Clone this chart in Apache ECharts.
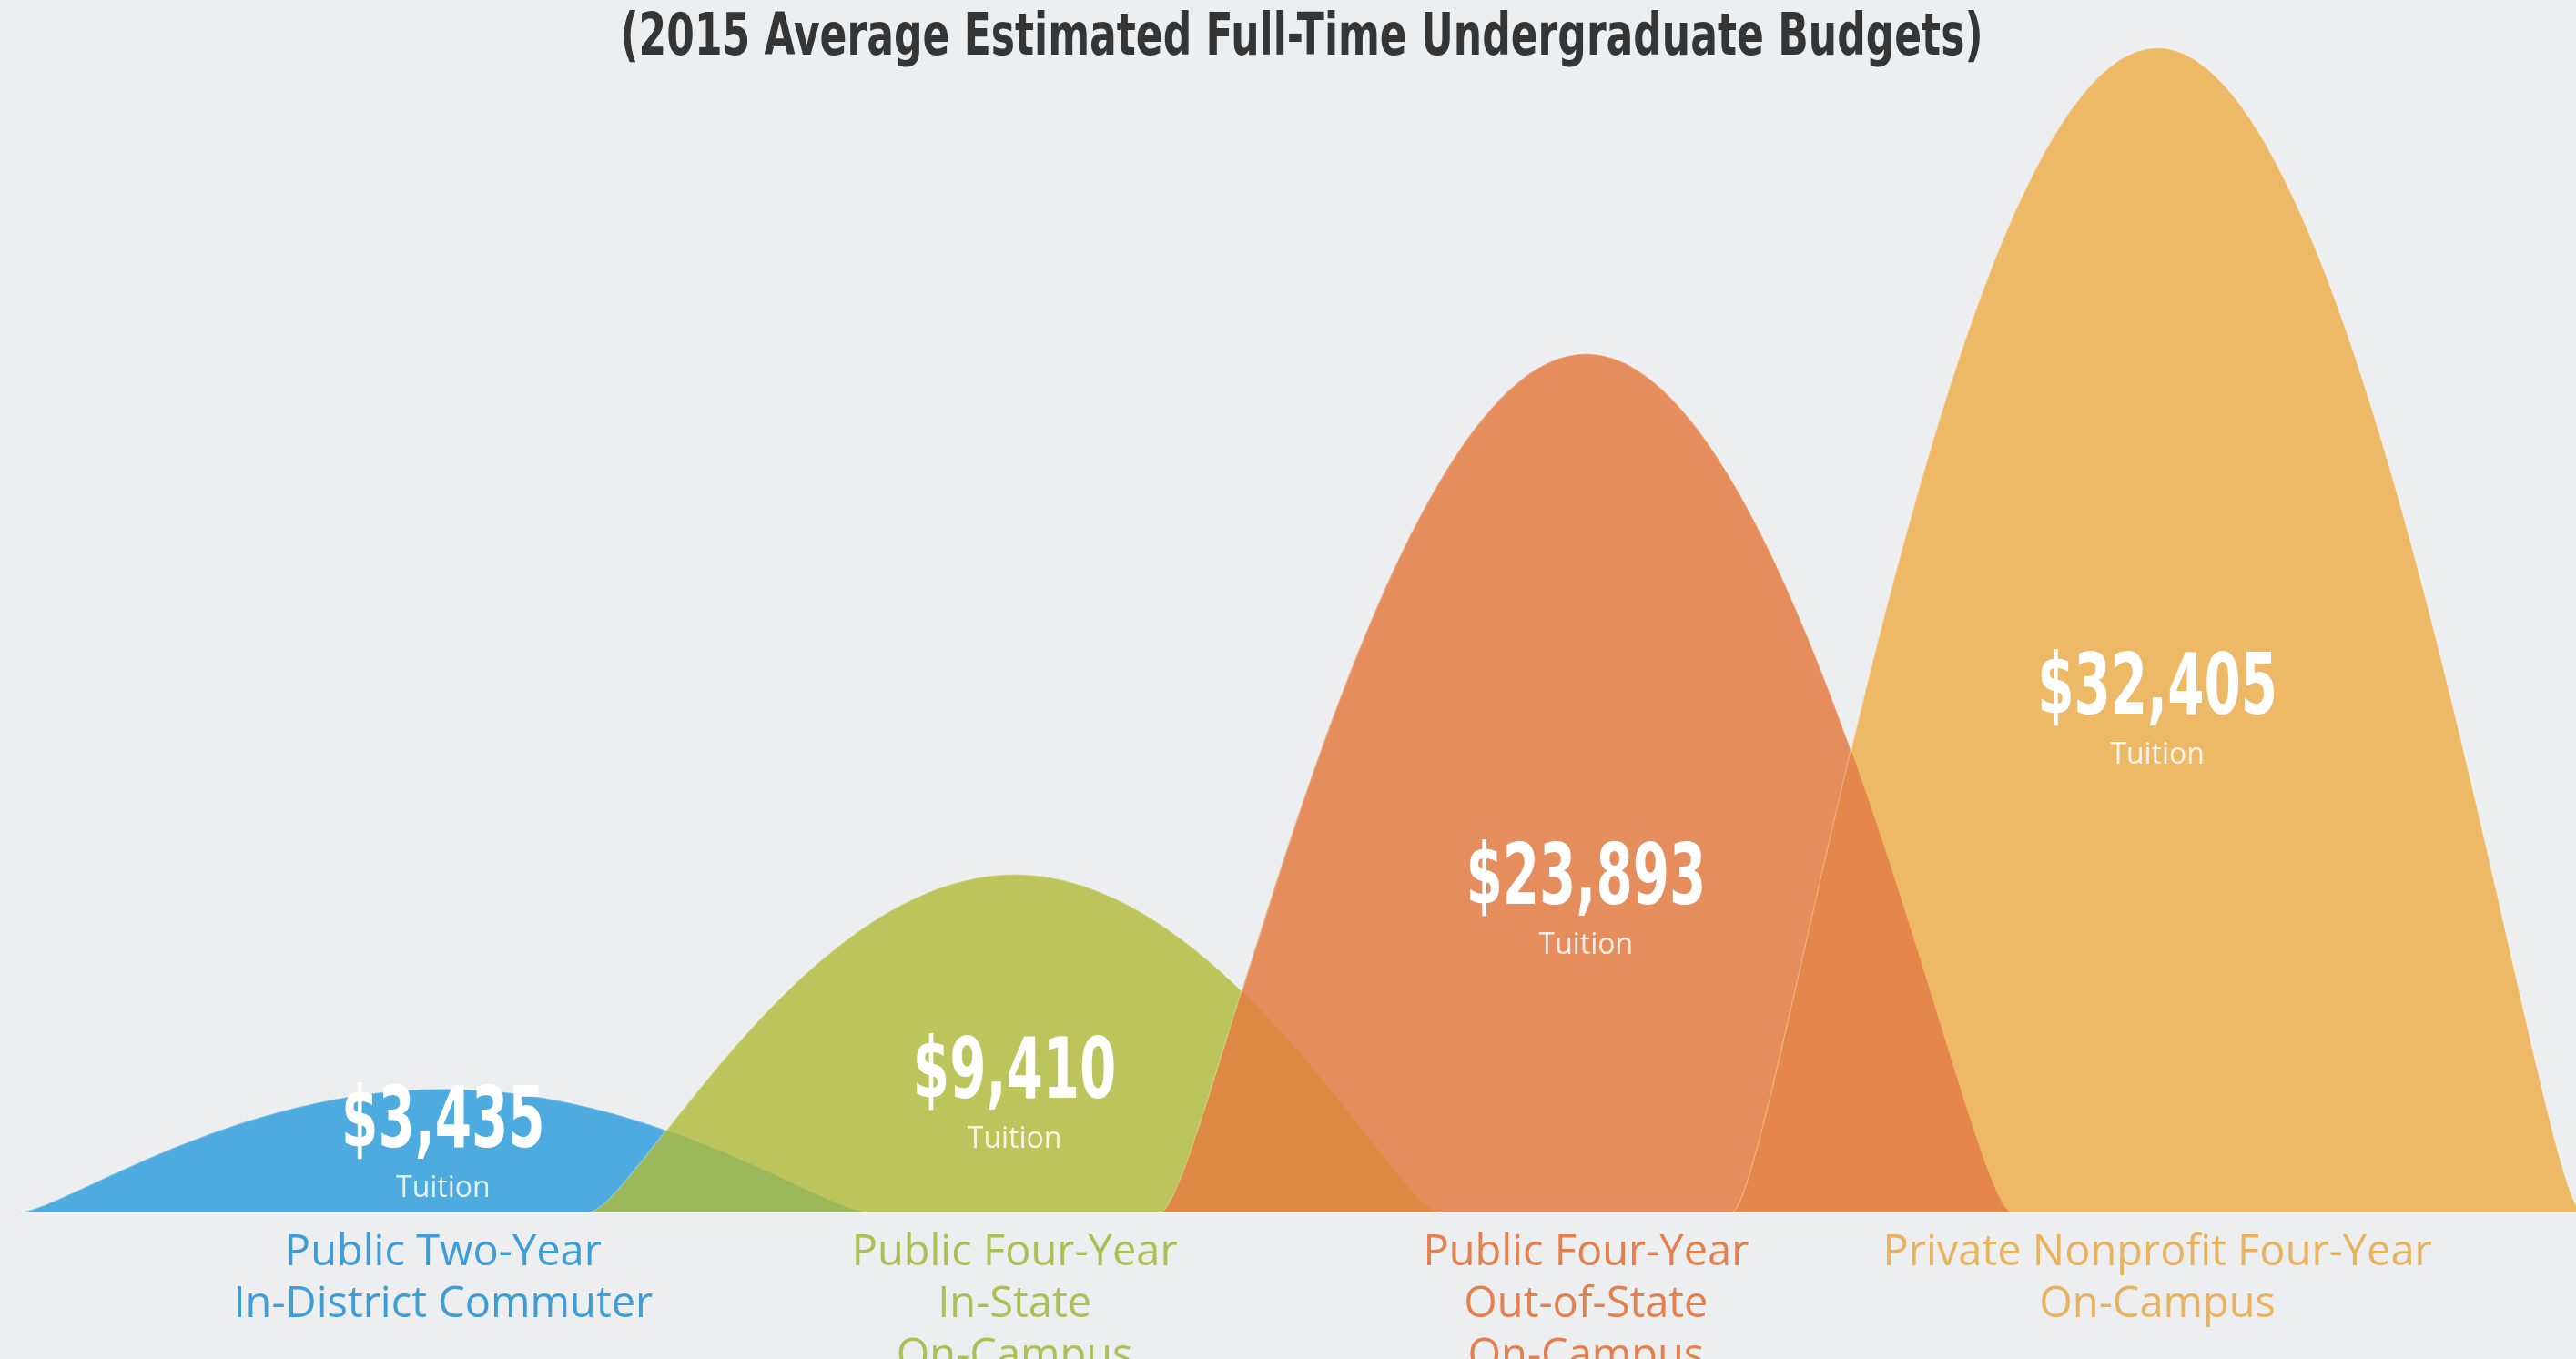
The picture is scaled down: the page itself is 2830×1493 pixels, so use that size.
<!DOCTYPE html>
<html>
<head>
<meta charset="utf-8">
<title>Tuition by college type</title>
<script src="https://cdn.jsdelivr.net/npm/echarts@6/dist/echarts.min.js"></script>
<style>
  html, body { margin: 0; padding: 0; background: #edeef0; }
  #chart { width: 2830px; height: 1493px; }
</style>
</head>
<body>
<div id="chart"></div>
<script>
const categories = [
  'Public Two-Year\nIn-District Commuter',
  'Public Four-Year\nIn-State\nOn-Campus',
  'Public Four-Year\nOut-of-State\nOn-Campus',
  'Private Nonprofit Four-Year\nOn-Campus'
]
const tuition = [3435, 9410, 23893, 32405]

// look
const hillColors = ['#4eabdf', '#bcc55b', '#e68d5d', '#eeb967']
const overlapColors = [null, '#9bb95a', '#de8942', '#e5874a']
const textColors = ['#3e9dd6', '#abbf55', '#e3804e', '#e8b35e']
const labelLift = [96, 150, 363, 572] // px above the baseline for the $ label
const SPREAD = 0.745 // half width of a hill, in category bands

const CP_A = 0.1
const CP_C = 0.5

function bez (p0, p1, p2, p3, t) {
  const u = 1 - t
  return u * u * u * p0 + 3 * u * u * t * p1 + 3 * u * t * t * p2 + t * t * t * p3
}

// pixel y of a hill outline above pixel x
function hillY (x, cx, w, by, ty) {
  const dx = Math.abs(x - cx)
  if (dx >= w) return by
  const tx = cx - dx
  let lo = 0
  let hi = 1
  for (let k = 0; k < 30; k++) {
    const m = (lo + hi) / 2
    if (bez(cx - w, cx - (1 - CP_A) * w, cx - CP_C * w, cx, m) < tx) lo = m
    else hi = m
  }
  return bez(by, by, ty, ty, lo)
}

const chart = echarts.init(document.getElementById('chart'))

const option = {
  backgroundColor: 'transparent',
  animation: false,
  grid: { left: 173, right: 146, top: 29, bottom: 161, outerBoundsMode: 'none' },
  xAxis: {
    type: 'category',
    data: categories,
    axisLine: { show: false },
    axisTick: { show: false },
    splitLine: { show: false },
    axisLabel: {
      interval: 0,
      margin: 16,
      fontFamily: 'Open Sans',
      fontSize: 47,
      lineHeight: 57,
      color: (value, index) => textColors[index]
    }
  },
  yAxis: { type: 'value', min: 0, max: 33000, show: false },
  graphic: [{
    type: 'text',
    x: 1430,
    y: 43,
    scaleX: 0.765,
    style: {
      text: '(2015 Average Estimated Full-Time Undergraduate Budgets)',
      fill: '#353535',
      font: 'bold 64px "Liberation Sans Narrow", "DejaVu Sans Condensed", sans-serif',
      align: 'center',
      verticalAlign: 'middle'
    }
  }],
  series: [{
    type: 'custom',
    silent: true,
    data: tuition.map((v, i) => [i, v]),
    renderItem (params, api) {
      const i = params.dataIndex
      const base = api.coord([i, 0])
      const top = api.coord([i, api.value(1)])
      const w = api.size([1, 0])[0] * SPREAD
      const cx = top[0]
      const by = base[1]
      const ty = top[1]
      const d = `M${cx - w},${by} C${cx - (1 - CP_A) * w},${by} ${cx - CP_C * w},${ty} ${cx},${ty} ` +
        `C${cx + CP_C * w},${ty} ${cx + (1 - CP_A) * w},${by} ${cx + w},${by} Z`
      const children = [{
        type: 'path',
        shape: { pathData: d },
        z2: i * 10 + 1,
        style: { fill: hillColors[i], stroke: 'rgba(255,255,255,0.3)', lineWidth: 2 }
      }]
      if (i > 0) {
        // darker patch where this hill sits on the one before it
        const prev = api.coord([i - 1, tuition[i - 1]])
        const x0 = cx - w
        const x1 = prev[0] + w
        if (x1 > x0) {
          const pts = [[x0, by]]
          const n = 160
          for (let k = 0; k <= n; k++) {
            const x = x0 + (x1 - x0) * k / n
            pts.push([x, Math.max(hillY(x, cx, w, by, ty), hillY(x, prev[0], w, by, prev[1]))])
          }
          pts.push([x1, by])
          children.push({ type: 'polygon', shape: { points: pts }, z2: i * 10 + 2, style: { fill: overlapColors[i] } })
        }
      }
      const ly = by - labelLift[i]
      children.push({
        type: 'text', x: cx, y: ly, scaleX: 0.70, z2: 100,
        style: {
          text: '$' + api.value(1).toLocaleString('en-US'),
          fill: '#ffffff',
          font: 'bold 92px "Liberation Sans Narrow", "DejaVu Sans Condensed", sans-serif',
          align: 'center',
          verticalAlign: 'middle'
        }
      })
      children.push({
        type: 'text', x: cx, y: ly + 70, z2: 100,
        style: {
          text: 'Tuition',
          fill: 'rgba(255,255,255,0.85)',
          font: '32px "Open Sans", sans-serif',
          align: 'center',
          verticalAlign: 'middle'
        }
      })
      return { type: 'group', children }
    }
  }]
}

chart.setOption(option)
</script>
</body>
</html>
